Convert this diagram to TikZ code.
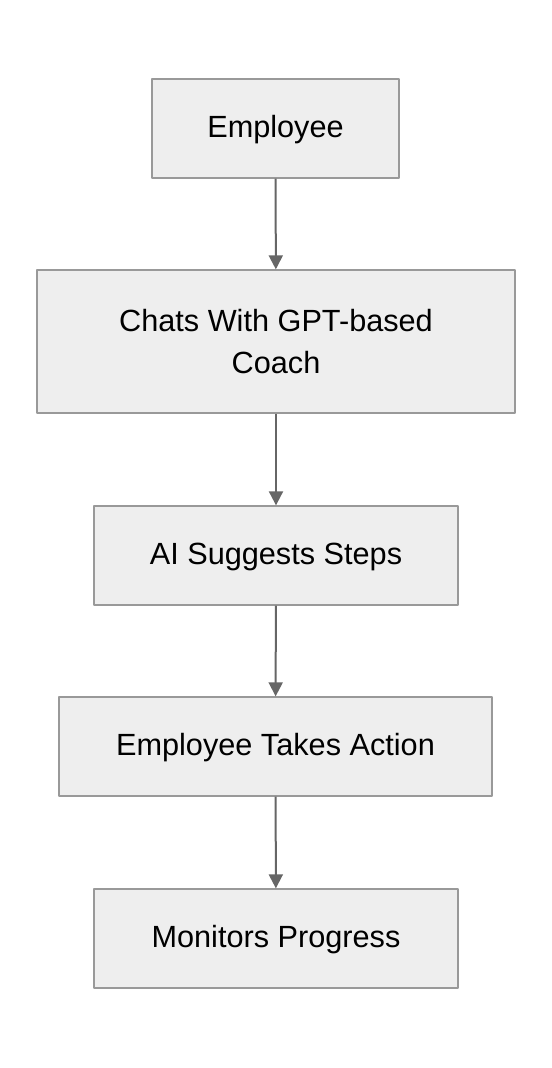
\documentclass[tikz,border=0pt]{standalone}
\usepackage{fontspec}
\setmainfont{Liberation Sans}
\usetikzlibrary{arrows.meta}
\definecolor{boxfill}{HTML}{EEEEEE}
\definecolor{boxline}{HTML}{999999}
\definecolor{arrowgray}{HTML}{666666}
\begin{document}
\begin{tikzpicture}[x=0.75pt,y=-0.75pt,>={Triangle[length=10.5pt,width=10.5pt]},
	font=\fontsize{23}{32}\selectfont, line join=round,
	flowbox/.style={draw=boxline,fill=boxfill,line width=1pt,align=center,inner sep=0pt,minimum height=74.25pt},
	oneline/.style={text height=19pt,text depth=5pt},
	flowarrow/.style={->,draw=arrowgray,line width=1.5pt}]
	\useasboundingbox (0,0) rectangle (552,1068);
	\node[flowbox,oneline,minimum width=185.25pt] (employee) at (275.5,128.5) {Employee};
	\node[flowbox,minimum width=358.5pt,minimum height=107.25pt] (chats) at (276,341.5) {Chats With GPT-based\\Coach};
	\node[flowbox,oneline,minimum width=273pt] (suggests) at (276,555.5) {AI Suggests Steps};
	\node[flowbox,oneline,minimum width=324.75pt] (action) at (275.5,746.5) {Employee Takes Action};
	\node[flowbox,oneline,minimum width=273pt] (monitor) at (276,938.5) {Monitors Progress};
	
	\draw[flowarrow] (employee)--(chats);
	\draw[flowarrow] (chats)--(suggests);
	\draw[flowarrow] (suggests)--(action);
	\draw[flowarrow] (action)--(monitor);
\end{tikzpicture}
\end{document}
